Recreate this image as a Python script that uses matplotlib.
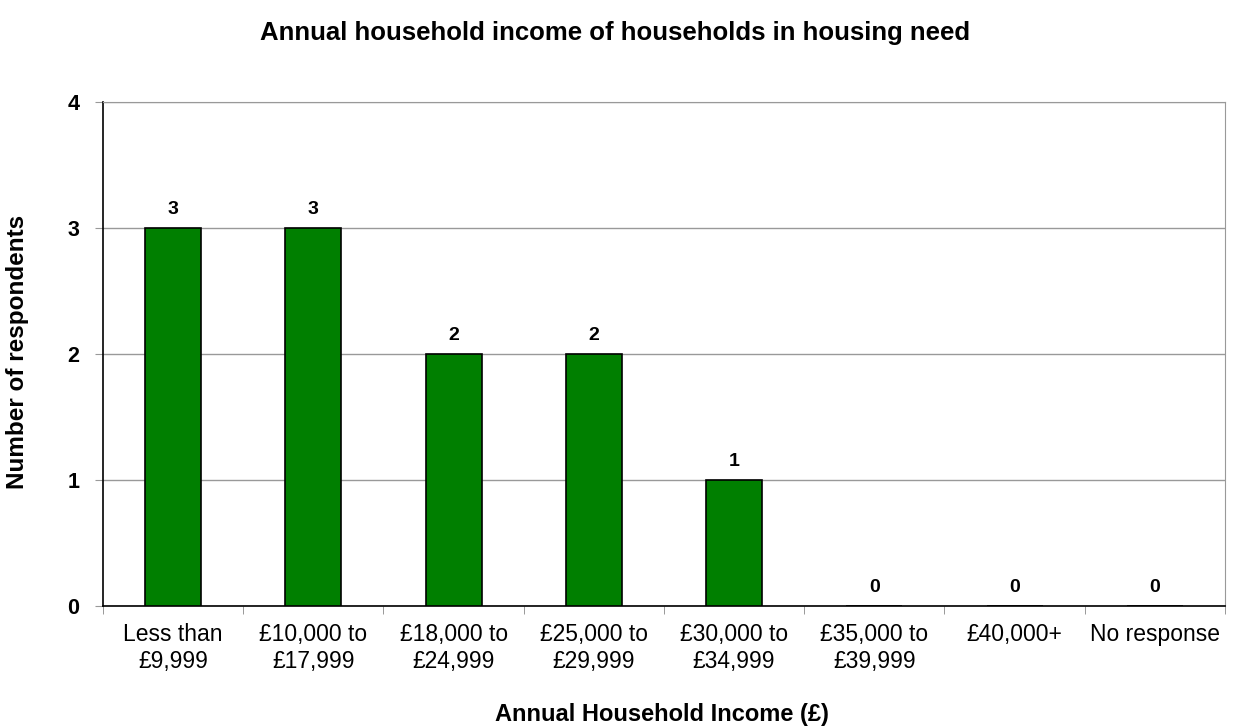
import numpy as np
import matplotlib.pyplot as plt

plt.rcParams['font.family'] = ['Liberation Sans', 'DejaVu Sans']

categories = ['Less than\n£9,999', '£10,000 to\n£17,999', '£18,000 to\n£24,999',
              '£25,000 to\n£29,999', '£30,000 to\n£34,999', '£35,000 to\n£39,999',
              '£40,000+', 'No response']
respondents = [3, 3, 2, 2, 1, 0, 0, 0]

fig = plt.figure(figsize=(12.33, 7.27), dpi=100)
ax = fig.add_axes([0.0835, 0.1664, 0.91, 0.6933])

x = np.arange(len(categories))
ax.bar(x, respondents, width=0.4, color='#007F00', edgecolor='black', linewidth=1.2, zorder=3)

for xi, v in zip(x, respondents):
    ax.annotate(str(v), (xi, v), xytext=(0, 7), textcoords='offset points',
                ha='center', va='bottom', fontsize=14, fontweight='bold')

ax.set_xlim(-0.5, len(categories) - 0.5)
ax.set_ylim(0, 4)
ax.set_yticks(range(5))
ax.set_yticklabels([str(i) for i in range(5)], fontsize=15.5, fontweight='bold')
ax.yaxis.grid(True, color='#999999', linewidth=1, zorder=0)

# category labels centred, ticks on the boundaries
ax.set_xticks(x)
ax.set_xticklabels(categories, fontsize=16.5, linespacing=1.25)
ax.tick_params(axis='x', length=0, pad=12)
ax.set_xticks(np.arange(-0.5, len(categories)), minor=True)
ax.tick_params(axis='x', which='minor', length=6, direction='out', color='#888888')
ax.tick_params(axis='y', length=6, direction='out', pad=11, color='#999999')

for side in ['top', 'right']:
    ax.spines[side].set_color('#999999')
for side in ['left', 'bottom']:
    ax.spines[side].set_color('black')
    ax.spines[side].set_linewidth(1.2)

fig.text(0.537, 1 - 714 / 727, 'Annual Household Income (£)', fontsize=17,
         fontweight='bold', ha='center', va='center')
fig.text(18 / 1233, 1 - 352 / 727, 'Number of respondents', fontsize=17.5,
         fontweight='bold', ha='center', va='center', rotation=90)
fig.text(0.499, 1 - 33 / 727, 'Annual household income of households in housing need',
         fontsize=18.5, fontweight='bold', ha='center', va='center')

fig.savefig('out.png', dpi=100)
